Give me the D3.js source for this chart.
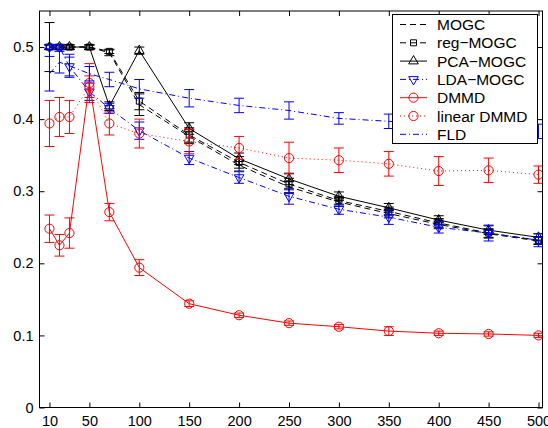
<!DOCTYPE html>
<html>
<head>
<meta charset="utf-8">
<script src="https://cdn.jsdelivr.net/npm/d3@7"></script>
<style>
  body { margin: 0; background: #fff; }
  text { font-family: "Liberation Sans", Arial, Helvetica, sans-serif; }
</style>
</head>
<body>
<div id="chart"></div>
<script>
// x positions (training set size) and tick labels
const xs = [10, 20, 30, 50, 70, 100, 150, 200, 250, 300, 350, 400, 450, 500];
const xTicks = [10, 50, 100, 150, 200, 250, 300, 350, 400, 450, 500];
const yTicks = [0, 0.1, 0.2, 0.3, 0.4, 0.5];

// series values and error half-widths
const mogc       = [0.500, 0.500, 0.500, 0.500, 0.492, 0.420, 0.376, 0.336, 0.306, 0.285, 0.269, 0.254, 0.241, 0.231];
const mogcErr    = [0.034, 0.003, 0.003, 0.003, 0.004, 0.015, 0.010, 0.008, 0.008, 0.006, 0.006, 0.006, 0.006, 0.005];
const regMogc    = [0.500, 0.500, 0.500, 0.500, 0.494, 0.425, 0.378, 0.340, 0.310, 0.287, 0.272, 0.256, 0.242, 0.232];
const regMogcErr = [0.003, 0.003, 0.003, 0.003, 0.003, 0.012, 0.010, 0.008, 0.008, 0.006, 0.006, 0.006, 0.006, 0.005];
const pcaMogc    = [0.500, 0.500, 0.500, 0.500, 0.418, 0.495, 0.387, 0.345, 0.317, 0.293, 0.277, 0.260, 0.246, 0.236];
const pcaMogcErr = [0.003, 0.003, 0.003, 0.003, 0.006, 0.005, 0.008, 0.008, 0.008, 0.006, 0.006, 0.006, 0.006, 0.005];
const ldaMogc    = [0.500, 0.500, 0.473, 0.438, 0.415, 0.384, 0.346, 0.319, 0.293, 0.275, 0.264, 0.250, 0.242, 0.232];
const ldaMogcErr = [0.003, 0.003, 0.013, 0.012, 0.007, 0.012, 0.009, 0.008, 0.011, 0.007, 0.010, 0.008, 0.011, 0.009];
const dmmd       = [0.248, 0.225, 0.242, 0.450, 0.271, 0.194, 0.144, 0.128, 0.117, 0.112, 0.106, 0.103, 0.102, 0.100];
const dmmdErr    = [0.019, 0.015, 0.021, 0.027, 0.012, 0.011, 0.004, 0.003, 0.003, 0.003, 0.006, 0.003, 0.003, 0.003];
const linDmmd    = [0.394, 0.403, 0.403, 0.445, 0.394, 0.380, 0.369, 0.360, 0.346, 0.343, 0.338, 0.328, 0.329, 0.323];
const linDmmdErr = [0.032, 0.027, 0.023, 0.015, 0.016, 0.020, 0.017, 0.016, 0.022, 0.017, 0.017, 0.020, 0.017, 0.012];
const fld        = [0.463, 0.479, 0.474, 0.463, 0.455, 0.442, 0.429, 0.419, 0.412, 0.401, 0.397, 0.392, 0.388, 0.383];
const fldErr     = [0.024, 0.015, 0.016, 0.010, 0.010, 0.013, 0.012, 0.010, 0.012, 0.008, 0.010, 0.010, 0.010, 0.010];

const seriesNames = ["MOGC", "reg\u2212MOGC", "PCA\u2212MOGC", "LDA\u2212MOGC", "DMMD", "linear DMMD", "FLD"];

// drawing style per series (kept apart from the data)
const series = [
  { name: seriesNames[0], vals: mogc,    err: mogcErr,    color: "#000", dash: "6,4",     marker: null },
  { name: seriesNames[1], vals: regMogc, err: regMogcErr, color: "#000", dash: "6,4",     marker: "square" },
  { name: seriesNames[2], vals: pcaMogc, err: pcaMogcErr, color: "#000", dash: null,      marker: "up" },
  { name: seriesNames[3], vals: ldaMogc, err: ldaMogcErr, color: "#0000ff", dash: "6,3,1,3", marker: "down" },
  { name: seriesNames[4], vals: dmmd,    err: dmmdErr,    color: "#ff0000", dash: null,   marker: "circle" },
  { name: seriesNames[5], vals: linDmmd, err: linDmmdErr, color: "#ff0000", dash: "1,3",  marker: "circle" },
  { name: seriesNames[6], vals: fld,     err: fldErr,     color: "#0000ff", dash: "6,3,1,3", marker: null }
];

const W = 548, H = 428;
const plotLeft = 39.5, plotRight = 542.5, plotTop = 11, plotBottom = 407.5;

const x = d3.scaleLinear().domain([0, 504]).range([plotLeft, plotRight]);
const y = d3.scaleLinear().domain([0, 0.55]).range([plotBottom, plotTop]);

const svg = d3.select("#chart").append("svg")
  .attr("width", W)
  .attr("height", H);

// clip the plotted marks to the axes box
svg.append("clipPath").attr("id", "plotclip")
  .append("rect")
  .attr("x", plotLeft).attr("y", plotTop)
  .attr("width", plotRight - plotLeft).attr("height", plotBottom - plotTop);

// axes: ticks point inward, box drawn on all four sides
const tickFont = "14.5px";
const legendFont = "15.5px";
const yFmt = d => d === 0 ? "0" : d3.format(".1f")(d);

const gLeft = svg.append("g").attr("transform", `translate(${plotLeft},0)`)
  .call(d3.axisLeft(y).tickValues(yTicks).tickFormat(yFmt).tickSizeInner(-5).tickSizeOuter(0).tickPadding(6));
const gBottom = svg.append("g").attr("transform", `translate(0,${plotBottom})`)
  .call(d3.axisBottom(x).tickValues(xTicks).tickFormat(d3.format("d")).tickSizeInner(-5).tickSizeOuter(0).tickPadding(8));
const gTop = svg.append("g").attr("transform", `translate(0,${plotTop})`)
  .call(d3.axisTop(x).tickValues(xTicks).tickFormat("").tickSizeInner(-5).tickSizeOuter(0));
const gRight = svg.append("g").attr("transform", `translate(${plotRight},0)`)
  .call(d3.axisRight(y).tickValues(yTicks).tickFormat("").tickSizeInner(-5).tickSizeOuter(0));

[gLeft, gBottom, gTop, gRight].forEach(g => {
  g.select(".domain").remove();
  g.selectAll("line").attr("stroke", "#000").attr("stroke-width", 1);
  g.selectAll("text").attr("fill", "#000").style("font-size", tickFont).style("font-family", "'Liberation Sans', Arial, sans-serif");
});

svg.append("rect")
  .attr("x", plotLeft).attr("y", plotTop)
  .attr("width", plotRight - plotLeft).attr("height", plotBottom - plotTop)
  .attr("fill", "none")
  .attr("stroke", "#000")
  .attr("stroke-width", 1);

// marker shapes
const sym = {
  square: d3.symbol().type(d3.symbolSquare).size(36),
  up: d3.symbol().type(d3.symbolTriangle).size(40),
  down: d3.symbol().type(d3.symbolTriangle).size(40),
  circle: d3.symbol().type(d3.symbolCircle).size(66)
};
function drawMarker(g, kind, cx, cy, color) {
  g.append("path")
    .attr("d", sym[kind]())
    .attr("transform", `translate(${cx},${cy})` + (kind === "down" ? " rotate(180)" : ""))
    .attr("fill", "none")
    .attr("stroke", color)
    .attr("stroke-width", 1);
}

const plot = svg.append("g").attr("clip-path", "url(#plotclip)");
const line = d3.line().x(d => x(d[0])).y(d => y(d[1]));
const cap = 5;

series.forEach(s => {
  const g = plot.append("g");
  const pts = xs.map((v, i) => [v, s.vals[i], s.err[i]]);

  // error bars (solid, with caps)
  pts.forEach(p => {
    const x0 = x(p[0]), yl = y(p[1] - p[2]), yh = y(p[1] + p[2]);
    g.append("path")
      .attr("d", `M${x0},${yl}V${yh}M${x0 - cap},${yl}H${x0 + cap}M${x0 - cap},${yh}H${x0 + cap}`)
      .attr("fill", "none")
      .attr("stroke", s.color)
      .attr("stroke-width", 1);
  });

  // the connecting line
  g.append("path")
    .datum(pts)
    .attr("fill", "none")
    .attr("stroke", s.color)
    .attr("stroke-width", 1)
    .attr("stroke-dasharray", s.dash)
    .attr("d", line);

  if (s.marker) {
    pts.forEach(p => drawMarker(g, s.marker, x(p[0]), y(p[1]), s.color));
  }
});

// legend
const lg = svg.append("g");
lg.append("rect")
  .attr("x", 392.5).attr("y", 14.5)
  .attr("width", 145).attr("height", 129)
  .attr("fill", "#fff")
  .attr("stroke", "#000")
  .attr("stroke-width", 1);

series.forEach((s, i) => {
  const ly = 24.5 + i * 18.3;
  lg.append("line")
    .attr("x1", 400).attr("x2", 427)
    .attr("y1", ly).attr("y2", ly)
    .attr("stroke", s.color)
    .attr("stroke-width", 1)
    .attr("stroke-dasharray", s.dash);
  if (s.marker) drawMarker(lg, s.marker, 413.5, ly, s.color);
  lg.append("text")
    .attr("x", 437)
    .attr("y", ly)
    .attr("dy", "0.36em")
    .style("font-size", legendFont)
    .attr("fill", "#000")
    .text(s.name);
});
</script>
</body>
</html>
